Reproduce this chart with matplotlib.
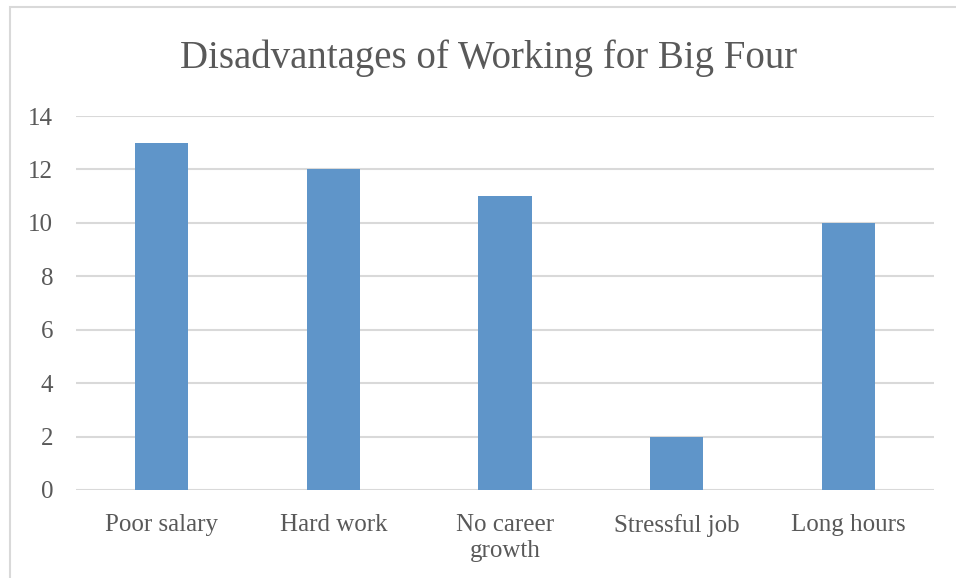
import matplotlib
matplotlib.use("Agg")
import matplotlib.pyplot as plt
from matplotlib.patches import Rectangle

categories = ["Poor salary", "Hard work", "No career\ngrowth", "Stressful job", "Long hours"]
values = [13, 12, 11, 2, 10]
yticks = [0, 2, 4, 6, 8, 10, 12, 14]
title = "Disadvantages of Working for Big Four"

W, H = 956, 578
fig = plt.figure(figsize=(W / 100, H / 100), dpi=100)
plt.rcParams['font.family'] = ['Liberation Serif', 'DejaVu Serif']

# outer chart border
fig.patches.append(Rectangle((9.5 / W, -0.1), 1.2, 1 - 6.5 / H + 0.1, transform=fig.transFigure,
                             fill=False, edgecolor="#D9D9D9", linewidth=1.5, zorder=0))

ax = fig.add_axes([76 / W, 88 / H, (934 - 76) / W, (490 - 116) / H])
x = range(len(categories))
ax.bar(x, values, width=0.31, color="#5F95C9", zorder=3)
ax.set_xlim(-0.5, len(categories) - 0.5)
ax.set_ylim(0, 14)
ax.set_yticks(yticks)
ax.set_yticklabels([str(t) for t in yticks])
ax.set_xticks(list(x))
ax.set_xticklabels(categories, linespacing=1.25)
for s in ax.spines.values():
    s.set_visible(False)
ax.grid(axis="y", color="#D9D9D9", linewidth=1.5, zorder=0)
ax.set_axisbelow(True)
ax.tick_params(axis="both", length=0, labelsize=18, colors="#595959")
ax.tick_params(axis="x", pad=17)
ax.tick_params(axis="y", pad=16.5)

fig.text(489 / W, 1 - 58 / H, title, ha="center", va="center", fontsize=28, color="#595959")

fig.savefig("out.png", dpi=100)
